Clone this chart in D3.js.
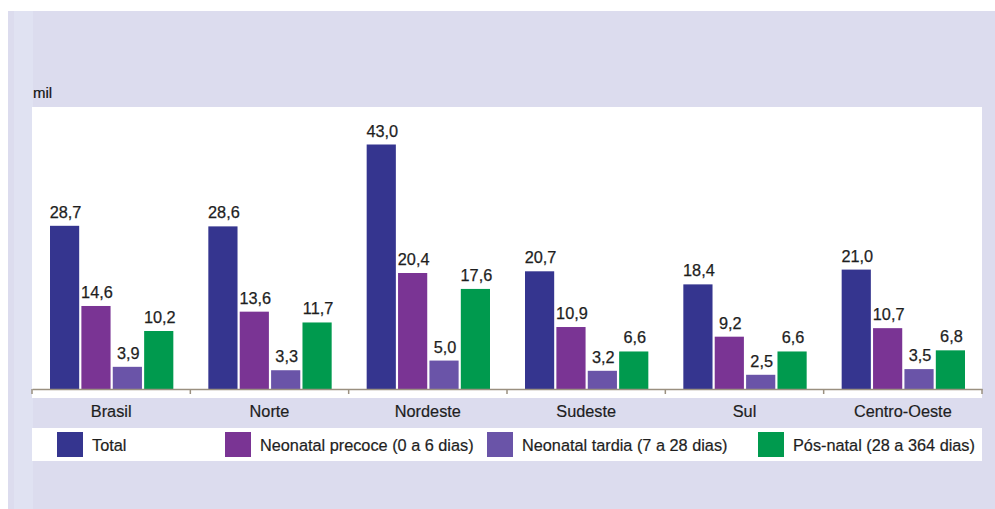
<!DOCTYPE html>
<html><head><meta charset="utf-8">
<script src="https://cdn.jsdelivr.net/npm/d3@7"></script>
<style>body{margin:0;background:#fff}svg{display:block}</style>
</head><body>
<script>
const categories = ["Brasil","Norte","Nordeste","Sudeste","Sul","Centro-Oeste"];
const seriesNames = ["Total","Neonatal precoce (0 a 6 dias)","Neonatal tardia (7 a 28 dias)","Pós-natal (28 a 364 dias)"];
const total    = [28.7, 28.6, 43.0, 20.7, 18.4, 21.0];
const precoce  = [14.6, 13.6, 20.4, 10.9, 9.2, 10.7];
const tardia   = [3.9, 3.3, 5.0, 3.2, 2.5, 3.5];
const posnatal = [10.2, 11.7, 17.6, 6.6, 6.6, 6.8];
const unitLabel = "mil";
const colors = ["#35358f","#7a3494","#6a54a8","#009a4e"];

const series = [total, precoce, tardia, posnatal];
const W = 995, H = 509;
const svg = d3.select("body").append("svg").attr("width", W).attr("height", H);
const font = "'Liberation Sans', Arial, sans-serif";
const fs = 16.3;

svg.append("rect").attr("x",8).attr("y",11).attr("width",W-8).attr("height",H-11).attr("fill","#dcdcee");
svg.append("rect").attr("x",14).attr("y",11).attr("width",19).attr("height",H-11).attr("fill","#e0e2f2");

const plotLeft = 32, plotRight = 982, base = 389, plotTop = 107;
svg.append("rect").attr("x",plotLeft).attr("y",plotTop).attr("width",plotRight-plotLeft).attr("height",398-plotTop).attr("fill","#ffffff");

const x0 = d3.scaleBand().domain(categories).range([plotLeft, plotRight]).paddingInner(0).paddingOuter(0);
const x1 = d3.scaleBand().domain(d3.range(series.length)).range([18, x0.bandwidth()-17]).paddingInner(0.07);
const y = d3.scaleLinear().domain([0, 43]).range([base, 144.5]);

// bars
const groups = svg.append("g").selectAll("g").data(categories).join("g")
  .attr("transform", d => `translate(${x0(d)},0)`);
groups.each(function(cat, ci){
  const g = d3.select(this);
  series.forEach((s, si) => {
    const v = s[ci];
    g.append("rect").attr("x", x1(si)).attr("width", x1.bandwidth())
      .attr("y", y(v)).attr("height", base - y(v)).attr("fill", colors[si]);
    g.append("text").attr("x", x1(si) + x1.bandwidth()/2 + 1).attr("y", y(v) - 8)
      .attr("text-anchor","middle").attr("font-family", font).attr("font-size", fs)
      .attr("fill","#1e1e1e").attr("stroke","#1e1e1e").attr("stroke-width",0.25)
      .text(d3.format(".1f")(v).replace(".", ","));
  });
});

// axis
const axis = d3.axisBottom(x0).tickSize(0).tickFormat("");
const ag = svg.append("g").attr("transform", `translate(0,${base})`).call(axis);
ag.select(".domain").attr("stroke","#9a9080").attr("stroke-width",1.5);
const tickPos = categories.map(c => x0(c)).concat([plotRight]);
svg.append("g").selectAll("line").data(tickPos).join("line")
  .attr("x1", d=>d).attr("x2", d=>d).attr("y1", base).attr("y2", base+5)
  .attr("stroke","#9a9080").attr("stroke-width",1.5);
svg.append("g").selectAll("text").data(categories).join("text")
  .attr("x", d => x0(d) + x0.bandwidth()/2).attr("y", 417)
  .attr("text-anchor","middle").attr("font-family", font).attr("font-size", fs)
  .attr("fill","#1e1e1e").attr("stroke","#1e1e1e").attr("stroke-width",0.2).text(d => d);

svg.append("text").attr("x",33).attr("y",98).attr("font-family", font).attr("font-size",15)
  .attr("fill","#111").attr("stroke","#111").attr("stroke-width",0.2).text(unitLabel);

// legend
svg.append("rect").attr("x",plotLeft).attr("y",428).attr("width",plotRight-plotLeft).attr("height",33).attr("fill","#ffffff");
const legX = [57, 225, 487, 758];
const lg = svg.append("g").selectAll("g").data(seriesNames).join("g")
  .attr("transform", (d,i) => `translate(${legX[i]},432)`);
lg.append("rect").attr("width",26).attr("height",25).attr("fill",(d,i)=>colors[i]);
lg.append("text").attr("x",35).attr("y",19).attr("font-family", font).attr("font-size",fs)
  .attr("fill","#1e1e1e").attr("stroke","#1e1e1e").attr("stroke-width",0.2).text(d => d);
</script>
</body></html>
